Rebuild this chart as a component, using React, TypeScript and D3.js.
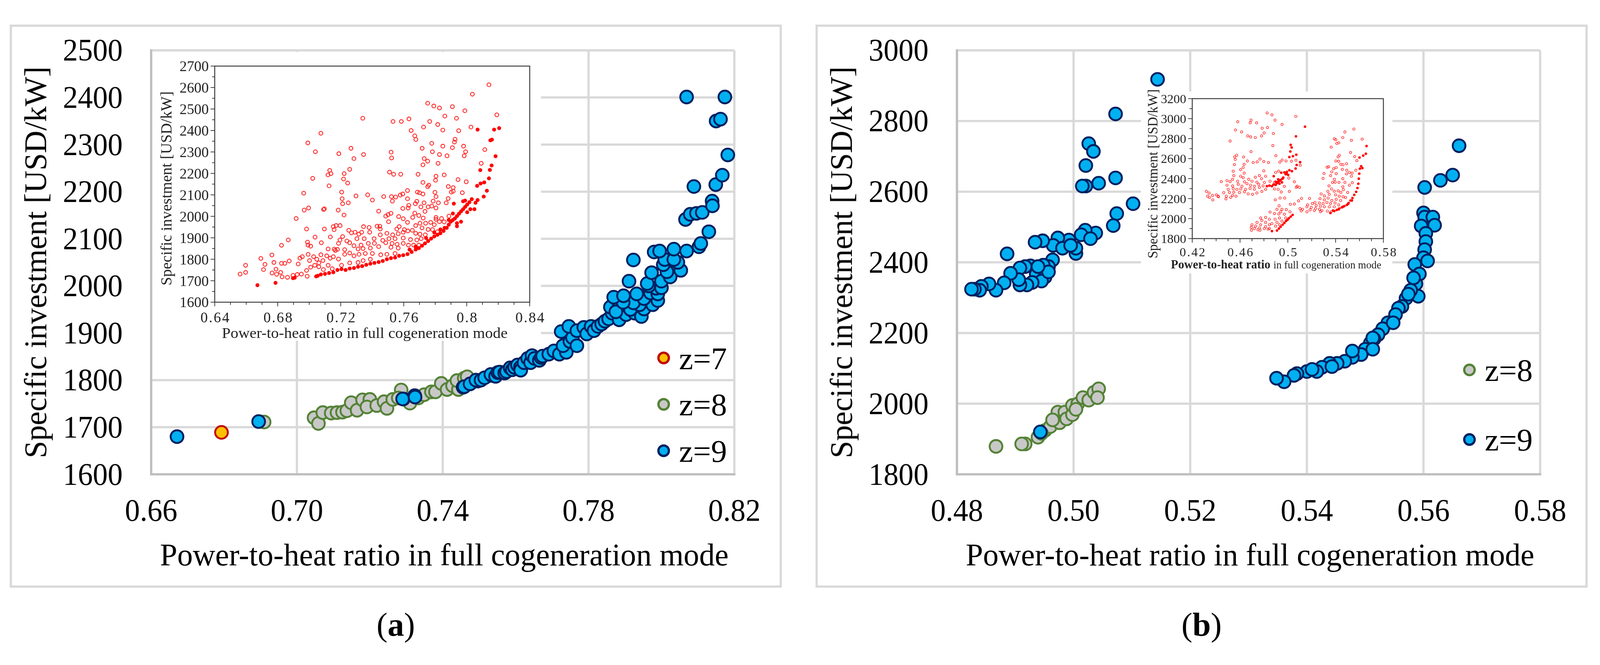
import { useEffect, useRef } from 'react'
import * as d3 from 'd3'

type Pt = [number, number]

// ---- panel (a) main series
const aZ7: Pt[] = [[0.6793, 1689]]

const aZ8: Pt[] = [
  [0.691, 1711], [0.7047, 1720], [0.7059, 1708], [0.7071, 1731], [0.7094, 1730], [0.711, 1731],
  [0.7125, 1732], [0.7137, 1735], [0.7149, 1752], [0.7165, 1736], [0.718, 1758], [0.72, 1759],
  [0.7192, 1743], [0.7219, 1746], [0.7239, 1754], [0.7247, 1740], [0.7263, 1759], [0.7286, 1779],
  [0.7278, 1762], [0.731, 1751], [0.7333, 1762], [0.7349, 1769], [0.7369, 1775], [0.738, 1775],
  [0.7396, 1793], [0.7412, 1780], [0.7427, 1788], [0.7443, 1780], [0.7439, 1799], [0.7459, 1804],
  [0.7467, 1807]
]

const aZ9: Pt[] = [
  [0.6671, 1680], [0.6895, 1712], [0.7292, 1760], [0.7323, 1767], [0.729, 1760], [0.7324, 1764],
  [0.7456, 1785], [0.7459, 1786], [0.7475, 1792], [0.7496, 1798], [0.7491, 1800], [0.7505, 1800],
  [0.7515, 1805], [0.7534, 1810], [0.7532, 1812], [0.7545, 1808], [0.7551, 1816], [0.7556, 1817],
  [0.757, 1815], [0.7575, 1818], [0.7585, 1826], [0.7591, 1822], [0.7597, 1827], [0.7605, 1832],
  [0.7613, 1827], [0.7614, 1821], [0.7623, 1837], [0.7633, 1846], [0.7641, 1837], [0.7645, 1852],
  [0.7652, 1846], [0.7665, 1842], [0.767, 1848], [0.7674, 1851], [0.7691, 1855], [0.7705, 1862],
  [0.772, 1855], [0.7739, 1859], [0.773, 1873], [0.7749, 1882], [0.7756, 1890], [0.7768, 1873],
  [0.7725, 1903], [0.7746, 1914], [0.7768, 1905], [0.7787, 1912], [0.7795, 1898], [0.7807, 1914],
  [0.7815, 1905], [0.7826, 1914], [0.7836, 1919], [0.7845, 1925], [0.7855, 1930], [0.7865, 1942],
  [0.7884, 1928], [0.7903, 1939], [0.7927, 1942], [0.7945, 1935], [0.7952, 1951], [0.786, 1955],
  [0.7884, 1957], [0.7875, 1945], [0.7915, 1950], [0.794, 1960], [0.7923, 1964], [0.7895, 1965],
  [0.7976, 1960], [0.799, 1969], [0.7952, 1973], [0.7869, 1976], [0.7896, 1979], [0.7932, 1983],
  [0.797, 1985], [0.799, 1983], [0.7985, 1995], [0.7965, 2000], [0.8, 1996], [0.8, 2010],
  [0.7961, 2005], [0.7911, 2010], [0.8024, 2019], [0.7973, 2028], [0.8015, 2030], [0.8053, 2033],
  [0.8005, 2045], [0.8045, 2050], [0.7923, 2055], [0.8009, 2056], [0.8034, 2056], [0.798, 2072],
  [0.7995, 2074], [0.8034, 2078], [0.8069, 2074], [0.8103, 2083], [0.8108, 2090], [0.813, 2115],
  [0.8066, 2141], [0.8079, 2152], [0.8096, 2154], [0.8112, 2156], [0.8139, 2180], [0.814, 2170],
  [0.8089, 2211], [0.8149, 2215], [0.8167, 2235], [0.8182, 2278], [0.815, 2350], [0.8162, 2354],
  [0.8069, 2401], [0.8174, 2401]
]

// ---- panel (a) inset
const aInsetOpen: Pt[] = [
  [0.8141, 2613], [0.8036, 2569], [0.7752, 2527], [0.7791, 2514], [0.7827, 2505], [0.7909, 2511],
  [0.7988, 2492], [0.8191, 2473], [0.734, 2457], [0.7861, 2467], [0.7935, 2457], [0.7633, 2454],
  [0.7532, 2442], [0.7585, 2442], [0.7765, 2442], [0.7816, 2428], [0.7726, 2416], [0.8027, 2416],
  [0.7848, 2402], [0.7949, 2399], [0.7647, 2400], [0.7074, 2387], [0.767, 2375], [0.7677, 2358],
  [0.7926, 2359], [0.7922, 2346], [0.7778, 2340], [0.6991, 2342], [0.7848, 2327], [0.798, 2327],
  [0.7909, 2320], [0.7717, 2317], [0.7265, 2317], [0.7039, 2301], [0.7782, 2301], [0.752, 2299],
  [0.7993, 2301], [0.7188, 2292], [0.7345, 2288], [0.7827, 2288], [0.7875, 2282], [0.7984, 2282],
  [0.8115, 2311], [0.7523, 2272], [0.7284, 2269], [0.773, 2269], [0.7752, 2257], [0.7818, 2247],
  [0.8092, 2247], [0.7722, 2240], [0.713, 2214], [0.7257, 2219], [0.7138, 2199], [0.7119, 2193],
  [0.7222, 2199], [0.751, 2206], [0.7536, 2196], [0.7581, 2196], [0.7691, 2196], [0.7857, 2193],
  [0.7805, 2187], [0.7022, 2177], [0.7218, 2174], [0.7802, 2168], [0.7945, 2171], [0.7997, 2161],
  [0.7244, 2155], [0.7722, 2158], [0.7759, 2145], [0.7752, 2138], [0.7126, 2142], [0.7883, 2139],
  [0.7914, 2134], [0.7914, 2117], [0.7902, 2113], [0.7972, 2110], [0.7206, 2113], [0.7687, 2113],
  [0.77, 2110], [0.7722, 2104], [0.7624, 2120], [0.7798, 2112], [0.6965, 2108], [0.7371, 2100],
  [0.7297, 2095], [0.7473, 2092], [0.7522, 2092], [0.7549, 2090], [0.7578, 2099], [0.7594, 2104],
  [0.7805, 2092], [0.7209, 2082], [0.7624, 2082], [0.7401, 2076], [0.7248, 2063], [0.7212, 2059],
  [0.7528, 2071], [0.7683, 2070], [0.7729, 2063], [0.7787, 2071], [0.7882, 2083], [0.787, 2063],
  [0.7674, 2059], [0.782, 2063], [0.6996, 2039], [0.6968, 2029], [0.7091, 2032], [0.7096, 2035],
  [0.7184, 2029], [0.7632, 2051], [0.7709, 2044], [0.7755, 2044], [0.7778, 2048], [0.7805, 2039],
  [0.7628, 2039], [0.7594, 2037], [0.7441, 2024], [0.7519, 2014], [0.7501, 2008], [0.7486, 2001],
  [0.7221, 2006], [0.767, 2015], [0.7735, 2023], [0.7696, 2004], [0.7724, 1992], [0.7568, 1999],
  [0.7597, 1989], [0.6917, 1990], [0.7624, 1972], [0.7504, 1975], [0.7657, 1995], [0.7805, 1995],
  [0.784, 1990], [0.7805, 1986], [0.7857, 1974], [0.7887, 2001], [0.7703, 1968], [0.7739, 1968],
  [0.7771, 1972], [0.7676, 1957], [0.7794, 1961], [0.7827, 1975], [0.7153, 1952], [0.7171, 1957],
  [0.7196, 1957], [0.7096, 1941], [0.6983, 1941], [0.7158, 1938], [0.7345, 1952], [0.738, 1948],
  [0.7431, 1954], [0.7448, 1954], [0.7451, 1941], [0.7571, 1952], [0.7556, 1941], [0.7604, 1938],
  [0.7655, 1935], [0.7716, 1946], [0.7755, 1939], [0.7783, 1938], [0.7814, 1928], [0.7251, 1935],
  [0.7268, 1923], [0.7291, 1926], [0.7333, 1926], [0.7384, 1926], [0.7315, 1917], [0.7451, 1914],
  [0.7493, 1921], [0.753, 1914], [0.7565, 1919], [0.7597, 1926], [0.7626, 1932], [0.7676, 1921],
  [0.7703, 1917], [0.7737, 1914], [0.7037, 1903], [0.7134, 1904], [0.6867, 1890], [0.7212, 1906],
  [0.7303, 1896], [0.7349, 1896], [0.7412, 1896], [0.7195, 1890], [0.7239, 1885], [0.7467, 1888],
  [0.7506, 1896], [0.7545, 1896], [0.7597, 1899], [0.7643, 1892], [0.7683, 1890], [0.7711, 1896],
  [0.6989, 1880], [0.7077, 1877], [0.6824, 1865], [0.6992, 1866], [0.7009, 1861], [0.7186, 1874],
  [0.7257, 1877], [0.7329, 1866], [0.7375, 1874], [0.7414, 1874], [0.7486, 1877], [0.7526, 1874],
  [0.7558, 1870], [0.7597, 1874], [0.763, 1866], [0.7663, 1866], [0.7696, 1866], [0.7179, 1846],
  [0.712, 1848], [0.7159, 1847], [0.7225, 1845], [0.7284, 1863], [0.731, 1848], [0.7342, 1850],
  [0.7388, 1852], [0.7441, 1859], [0.7519, 1856], [0.7565, 1852], [0.6763, 1820], [0.6693, 1804],
  [0.6719, 1776], [0.6776, 1785], [0.6824, 1781], [0.6845, 1781], [0.6873, 1792], [0.693, 1778],
  [0.6941, 1805], [0.6956, 1812], [0.6993, 1823], [0.7002, 1794], [0.7028, 1812], [0.7048, 1800],
  [0.7074, 1821], [0.7111, 1816], [0.7153, 1812], [0.7186, 1801], [0.7225, 1823], [0.7257, 1829],
  [0.7284, 1816], [0.7316, 1823], [0.7356, 1827], [0.7401, 1827], [0.7454, 1821], [0.7493, 1823],
  [0.7545, 1827], [0.7166, 1841], [0.6596, 1772], [0.6596, 1739], [0.6561, 1731], [0.671, 1752],
  [0.6764, 1736], [0.6789, 1754], [0.6819, 1739], [0.6793, 1730], [0.6828, 1718], [0.6862, 1716],
  [0.6897, 1725], [0.6924, 1729], [0.695, 1731], [0.6987, 1721], [0.6983, 1748], [0.7009, 1763],
  [0.7035, 1772], [0.7061, 1765], [0.709, 1752], [0.712, 1772], [0.7146, 1756], [0.7205, 1772],
  [0.7257, 1783], [0.731, 1785], [0.7342, 1794], [0.7388, 1800], [0.7061, 1783], [0.7087, 1794],
  [0.7133, 1805]
]

const aInsetFilled: Pt[] = [
  [0.6671, 1679], [0.6786, 1690], [0.6897, 1712], [0.6908, 1714], [0.7044, 1720], [0.7054, 1723],
  [0.7074, 1729], [0.71, 1732], [0.7126, 1736], [0.7153, 1739], [0.7179, 1750], [0.7205, 1754],
  [0.7231, 1750], [0.7257, 1757], [0.7284, 1759], [0.731, 1765], [0.7336, 1768], [0.7362, 1774],
  [0.7388, 1779], [0.7414, 1783], [0.7441, 1787], [0.7467, 1792], [0.7493, 1800], [0.7519, 1805],
  [0.7545, 1808], [0.7571, 1816], [0.7597, 1819], [0.7624, 1824], [0.765, 1834], [0.7676, 1845],
  [0.7696, 1852], [0.7716, 1863], [0.7735, 1874], [0.7755, 1885], [0.7774, 1896], [0.7794, 1906],
  [0.7814, 1914], [0.7833, 1921], [0.7853, 1932], [0.7873, 1946], [0.7886, 1961], [0.7899, 1975],
  [0.7912, 1983], [0.7925, 1990], [0.7938, 2001], [0.7951, 2012], [0.7964, 2023], [0.7977, 2033],
  [0.799, 2044], [0.8003, 2055], [0.8017, 2066], [0.8032, 2080], [0.8056, 2063], [0.8069, 2076],
  [0.8049, 2033], [0.7977, 2070], [0.799, 2073], [0.7918, 2059], [0.7912, 2013], [0.8108, 2092],
  [0.8128, 2119], [0.8066, 2142], [0.8088, 2153], [0.8111, 2158], [0.8141, 2177], [0.8147, 2216],
  [0.8086, 2215], [0.8158, 2237], [0.8183, 2280], [0.815, 2354], [0.816, 2357], [0.8069, 2404],
  [0.8174, 2404], [0.8206, 2411], [0.7886, 1983], [0.7833, 1939], [0.7938, 1954], [0.7964, 1975],
  [0.8003, 2019], [0.8023, 2033], [0.7938, 1968], [0.7859, 1946], [0.7794, 1925], [0.7742, 1899],
  [0.7676, 1859], [0.7637, 1845]
]

// ---- panel (b) main series
const bZ8: Pt[] = [
  [0.4867, 1879], [0.4917, 1886], [0.4911, 1886], [0.4939, 1905], [0.4951, 1924], [0.496, 1935],
  [0.4973, 1976], [0.4985, 1976], [0.4976, 1946], [0.4988, 1957], [0.4998, 1969], [0.4998, 1995],
  [0.5007, 1999], [0.5016, 2017], [0.5026, 2010], [0.5035, 2032], [0.5043, 2042], [0.5041, 2017],
  [0.5004, 1984], [0.4964, 1954], [0.4945, 1916]
]

const bZ9: Pt[] = [
  [0.5144, 2918], [0.5072, 2820], [0.5026, 2736], [0.5034, 2714], [0.5021, 2674], [0.5072, 2639],
  [0.5043, 2624], [0.5021, 2616], [0.5015, 2616], [0.5102, 2566], [0.5074, 2538], [0.5068, 2504],
  [0.5038, 2483], [0.502, 2491], [0.5013, 2478], [0.5004, 2425], [0.5004, 2440], [0.4992, 2463],
  [0.4973, 2469], [0.4965, 2448], [0.4981, 2440], [0.4947, 2461], [0.4934, 2457], [0.5029, 2467],
  [0.4886, 2424], [0.4964, 2407], [0.4957, 2388], [0.4948, 2392], [0.4926, 2390], [0.4917, 2388],
  [0.4908, 2384], [0.4936, 2366], [0.4951, 2358], [0.4945, 2347], [0.4929, 2343], [0.492, 2336],
  [0.4908, 2336], [0.4906, 2351], [0.4892, 2369], [0.4881, 2342], [0.4867, 2321], [0.4855, 2339],
  [0.4842, 2332], [0.4839, 2321], [0.483, 2324], [0.4825, 2324], [0.4957, 2373], [0.4939, 2388],
  [0.4995, 2448], [0.4943, 1920],
  [0.5661, 2730], [0.565, 2647], [0.5629, 2632], [0.5602, 2612], [0.56, 2540], [0.5602, 2528],
  [0.5616, 2528], [0.5619, 2505], [0.5596, 2503], [0.5604, 2482], [0.5604, 2459], [0.5602, 2436],
  [0.56, 2413], [0.5607, 2404], [0.5585, 2394], [0.5593, 2367], [0.5587, 2339], [0.5583, 2356],
  [0.5591, 2304], [0.5578, 2321], [0.557, 2298], [0.5563, 2275], [0.5557, 2270], [0.5552, 2252],
  [0.5539, 2229], [0.553, 2212], [0.5522, 2195], [0.5515, 2183], [0.5509, 2172], [0.55, 2154],
  [0.5493, 2139], [0.5478, 2131], [0.5478, 2149], [0.5465, 2120], [0.5452, 2114], [0.5439, 2114],
  [0.5426, 2103], [0.5417, 2091], [0.54, 2091], [0.5383, 2085], [0.5378, 2080], [0.5361, 2062],
  [0.5348, 2072], [0.5513, 2186], [0.5548, 2229], [0.5574, 2310], [0.5513, 2154], [0.5443, 2105],
  [0.5409, 2097]
]

// ---- panel (b) inset
const bInsetOpen: Pt[] = [
  [0.4827, 3057], [0.4867, 3038], [0.5067, 3023], [0.4893, 2985], [0.4581, 2969], [0.4692, 2985],
  [0.4685, 2958], [0.4739, 2958], [0.4952, 2942], [0.4785, 2904], [0.483, 2911], [0.4562, 2886],
  [0.4613, 2867], [0.4802, 2857], [0.4879, 2852], [0.4664, 2827], [0.4689, 2817], [0.4728, 2811],
  [0.478, 2827], [0.4517, 2776], [0.4875, 2730], [0.4692, 2670], [0.49, 2629], [0.4572, 2634],
  [0.4555, 2617], [0.463, 2616], [0.456, 2592], [0.4661, 2576], [0.471, 2561], [0.4767, 2596],
  [0.4743, 2567], [0.4799, 2571], [0.4838, 2561], [0.4933, 2565], [0.4952, 2586], [0.4985, 2576],
  [0.5031, 2574], [0.5068, 2584], [0.5104, 2534], [0.4553, 2540], [0.4634, 2543], [0.4605, 2489],
  [0.4626, 2511], [0.4799, 2478], [0.4543, 2474], [0.4635, 2455], [0.4548, 2430], [0.4605, 2424],
  [0.4626, 2409], [0.4762, 2430], [0.4814, 2424], [0.4728, 2414], [0.4673, 2393], [0.478, 2399],
  [0.4538, 2393], [0.4491, 2380], [0.4443, 2370], [0.4517, 2370], [0.458, 2374], [0.4637, 2368],
  [0.47, 2374], [0.4741, 2364], [0.4804, 2362], [0.4851, 2374], [0.4491, 2334], [0.4538, 2327],
  [0.4585, 2343], [0.4616, 2324], [0.4658, 2349], [0.4689, 2334], [0.472, 2324], [0.4757, 2343],
  [0.4793, 2327], [0.4501, 2293], [0.4543, 2299], [0.4574, 2293], [0.4606, 2297], [0.4647, 2293],
  [0.4684, 2302], [0.472, 2293], [0.4762, 2312], [0.4814, 2293], [0.4464, 2259], [0.4511, 2262],
  [0.4548, 2264], [0.4595, 2262], [0.4637, 2268], [0.4668, 2247], [0.4705, 2243], [0.4741, 2256],
  [0.4783, 2272], [0.4318, 2272], [0.4341, 2256], [0.4329, 2224], [0.4344, 2212], [0.437, 2231],
  [0.4372, 2187], [0.4402, 2237], [0.4417, 2224], [0.4419, 2218], [0.4485, 2224], [0.4482, 2197],
  [0.4522, 2212], [0.4566, 2224], [0.4538, 2231], [0.4888, 2297], [0.4919, 2293], [0.4945, 2266],
  [0.4971, 2322], [0.5013, 2272], [0.5008, 2405], [0.5055, 2368], [0.5071, 2312], [0.5097, 2312],
  [0.5078, 2324], [0.4895, 2187], [0.4935, 2206], [0.4974, 2206], [0.5021, 2143], [0.5055, 2146],
  [0.509, 2177], [0.5115, 2202], [0.5182, 2202], [0.4923, 2474], [0.4898, 2462], [0.4888, 2362],
  [0.4927, 2127], [0.4909, 2093], [0.4951, 2093], [0.4987, 2090], [0.4941, 2068], [0.4851, 2065],
  [0.4888, 2050], [0.4925, 2046], [0.4971, 2044], [0.5018, 2068], [0.4773, 2006], [0.4814, 2012],
  [0.4846, 1994], [0.4893, 1994], [0.493, 2006], [0.4982, 2006], [0.4742, 1962], [0.4783, 1981],
  [0.4814, 1962], [0.4867, 1950], [0.4909, 1962], [0.4951, 1975], [0.47, 1938], [0.4731, 1925],
  [0.4773, 1938], [0.4814, 1919], [0.4846, 1938], [0.4898, 1925], [0.493, 1938], [0.4694, 1913],
  [0.472, 1900], [0.4762, 1906], [0.4804, 1900], [0.4835, 1894], [0.4696, 1884], [0.475, 1888],
  [0.4767, 1884], [0.4846, 1901],
  [0.5553, 2896], [0.5478, 2867], [0.546, 2811], [0.5622, 2795], [0.5389, 2798], [0.5402, 2789],
  [0.5532, 2783], [0.541, 2752], [0.5426, 2758], [0.5363, 2715], [0.5525, 2661], [0.5431, 2634],
  [0.5421, 2617], [0.5559, 2620], [0.5578, 2580], [0.5402, 2576], [0.5426, 2574], [0.5492, 2549],
  [0.5462, 2539], [0.5444, 2543], [0.5329, 2514], [0.5342, 2518], [0.5405, 2511], [0.5384, 2499],
  [0.5493, 2484], [0.5456, 2493], [0.5569, 2484], [0.5368, 2468], [0.5515, 2462], [0.5538, 2455],
  [0.5303, 2451], [0.5358, 2430], [0.5405, 2449], [0.5491, 2447], [0.5532, 2424], [0.5295, 2402],
  [0.5389, 2393], [0.546, 2399], [0.5397, 2364], [0.5374, 2362], [0.5428, 2362], [0.5478, 2362],
  [0.554, 2359], [0.5515, 2334], [0.546, 2318], [0.5345, 2327], [0.5366, 2297], [0.5465, 2289],
  [0.5501, 2262], [0.5335, 2272], [0.5389, 2274], [0.5421, 2277], [0.5444, 2262], [0.5279, 2247],
  [0.5306, 2227], [0.5347, 2243], [0.54, 2237], [0.5431, 2224], [0.5462, 2218], [0.5269, 2200],
  [0.5306, 2187], [0.5337, 2206], [0.5369, 2181], [0.5405, 2193], [0.5442, 2181], [0.5483, 2212],
  [0.5227, 2162], [0.5264, 2156], [0.5295, 2150], [0.5327, 2162], [0.5358, 2150], [0.5395, 2156],
  [0.5426, 2137], [0.5206, 2150], [0.5165, 2137], [0.5237, 2131], [0.5274, 2125], [0.5306, 2118],
  [0.5347, 2118], [0.5389, 2118], [0.516, 2118], [0.5196, 2112], [0.5232, 2100], [0.5264, 2093],
  [0.5285, 2081], [0.5102, 2100], [0.5123, 2093], [0.5112, 2077], [0.516, 2068], [0.5186, 2087],
  [0.5222, 2081], [0.5274, 2068], [0.5331, 2075], [0.5363, 2068]
]

const bInsetFilled: Pt[] = [
  [0.5144, 2919], [0.5068, 2823], [0.5024, 2738], [0.5032, 2711], [0.5021, 2671], [0.5071, 2639],
  [0.5013, 2615], [0.5043, 2624], [0.5103, 2565], [0.5074, 2536], [0.5065, 2501], [0.5013, 2484],
  [0.5034, 2474], [0.4992, 2468], [0.4971, 2462], [0.4945, 2459], [0.4982, 2443], [0.5003, 2437],
  [0.4956, 2399], [0.494, 2387], [0.4925, 2374], [0.4909, 2355], [0.493, 2349], [0.4951, 2362],
  [0.4898, 2337], [0.4882, 2424], [0.4867, 2324], [0.4846, 2330], [0.4825, 2324], [0.4898, 2368],
  [0.4919, 2393], [0.4935, 2380], [0.4962, 2410], [0.499, 2450], [0.4915, 2365], [0.488, 2340],
  [0.4867, 1875], [0.4909, 1881], [0.4925, 1900], [0.494, 1919], [0.4956, 1938], [0.4971, 1956],
  [0.4984, 1975], [0.4997, 1987], [0.5008, 2003], [0.5024, 2019], [0.504, 2037],
  [0.5356, 2056], [0.5389, 2075], [0.541, 2087], [0.5431, 2100], [0.5452, 2112], [0.5473, 2125],
  [0.5494, 2137], [0.5509, 2156], [0.5525, 2181], [0.5541, 2206], [0.5556, 2237], [0.5572, 2268],
  [0.5583, 2306], [0.559, 2349], [0.5594, 2399], [0.5598, 2449], [0.5603, 2499], [0.5614, 2524],
  [0.5624, 2505], [0.56, 2611], [0.5631, 2630], [0.5653, 2649], [0.5659, 2726], [0.5378, 2081],
  [0.5426, 2093], [0.5462, 2118], [0.5504, 2146], [0.5536, 2181]
]

// ---- ticks and labels
const aXTicks = [0.66, 0.7, 0.74, 0.78, 0.82]
const aYTicks = [1600, 1700, 1800, 1900, 2000, 2100, 2200, 2300, 2400, 2500]
const bXTicks = [0.48, 0.5, 0.52, 0.54, 0.56, 0.58]
const bYTicks = [1800, 2000, 2200, 2400, 2600, 2800, 3000]
const aInsetXTicks = [0.64, 0.68, 0.72, 0.76, 0.8, 0.84]
const aInsetYTicks = [1600, 1700, 1800, 1900, 2000, 2100, 2200, 2300, 2400, 2500, 2600, 2700]
const bInsetXTicks = [0.42, 0.46, 0.5, 0.54, 0.58]
const bInsetYTicks = [1800, 2000, 2200, 2400, 2600, 2800, 3000, 3200]

const xTitle = 'Power-to-heat ratio in full cogeneration mode'
const yTitle = 'Specific investment [USD/kW]'
const seriesNames = ['z=7', 'z=8', 'z=9']

const W = 4277
const H = 1702
const FONT = "'Liberation Serif', 'Times New Roman', serif"

const seriesStyle: Record<string, { fill: string; stroke: string }> = {
  'z=7': { fill: '#ffc000', stroke: '#c00000' },
  'z=8': { fill: '#c8c8c8', stroke: '#548235' },
  'z=9': { fill: '#00b0f0', stroke: '#002060' }
}

type Sel = d3.Selection<SVGGElement, unknown, null, undefined>

interface InsetCfg {
  box: { x: number; y: number; w: number; h: number }
  axes: { l: number; r: number; t: number; b: number }
  xDomain: [number, number]
  yDomain: [number, number]
  xTicks: number[]
  yTicks: number[]
  xMinor: number[]
  yMinor: number[]
  open: Pt[]
  filled: Pt[]
  r: number
  sw: number
  fr: number
  tickFont: number
  yLabelRight: number
  xLabelY: number
  xTitle: { x: number; y: number; size: number; len: number; boldPart?: string; boldSize?: number }
  yTitle: { x: number; y: number; size: number; len: number }
}

interface PanelCfg {
  dx: number
  xDomain: [number, number]
  yDomain: [number, number]
  xTicks: number[]
  yTicks: number[]
  series: { name: string; data: Pt[] }[]
  legend: { name: string; y: number }[]
  caption: string
  inset: InsetCfg
}

// layout shared by both panels (panel b is shifted by dx)
const frame = { x: 29, y: 31, w: 2058, h: 1499 }
const plot = { l: 404, r: 1963, t: 97, b: 1230 }

function drawInset(g: Sel, c: InsetCfg) {
  g.append('rect')
    .attr('x', c.box.x).attr('y', c.box.y)
    .attr('width', c.box.w).attr('height', c.box.h)
    .attr('fill', '#fff')

  const a = c.axes
  const x = d3.scaleLinear().domain(c.xDomain).range([a.l, a.r])
  const y = d3.scaleLinear().domain(c.yDomain).range([a.b, a.t])
  const ink = '#3a3a3a'

  // minor + major ticks, pointing outwards
  g.append('g').selectAll('line').data(c.yMinor).join('line')
    .attr('x1', a.l).attr('x2', d => a.l - (c.yTicks.includes(d) ? 11 : 7))
    .attr('y1', d => y(d)).attr('y2', d => y(d))
    .attr('stroke', ink).attr('stroke-width', 2)
  g.append('g').selectAll('line').data(c.xMinor).join('line')
    .attr('y1', a.b).attr('y2', d => a.b + (c.xTicks.some(t => Math.abs(t - d) < 1e-6) ? 11 : 7))
    .attr('x1', d => x(d)).attr('x2', d => x(d))
    .attr('stroke', ink).attr('stroke-width', 2)

  g.append('rect')
    .attr('x', a.l).attr('y', a.t)
    .attr('width', a.r - a.l).attr('height', a.b - a.t)
    .attr('fill', 'none').attr('stroke', ink).attr('stroke-width', 2.5)

  // tick labels
  g.append('g').selectAll('text').data(c.yTicks).join('text')
    .attr('x', c.yLabelRight).attr('y', d => y(d)).attr('dy', '0.35em')
    .attr('text-anchor', 'end')
    .style('font-family', FONT).style('font-size', `${c.tickFont}px`).attr('fill', '#222')
    .text(d => String(d))
  g.append('g').selectAll('text').data(c.xTicks).join('text')
    .attr('x', d => x(d) + 2).attr('y', c.xLabelY).attr('dy', '0.35em')
    .attr('text-anchor', 'middle')
    .style('font-family', FONT).style('font-size', `${c.tickFont}px`)
    .style('letter-spacing', '3px').attr('fill', '#222')
    .text(d => String(d))

  // axis titles
  const xt = g.append('text')
    .attr('y', c.xTitle.y).attr('dy', '0.35em')
    .style('font-family', FONT).attr('fill', '#222')
  if (c.xTitle.boldPart) {
    xt.attr('x', c.xTitle.x).attr('text-anchor', 'start')
    xt.append('tspan').style('font-weight', 'bold').style('font-size', `${c.xTitle.boldSize}px`)
      .text(c.xTitle.boldPart)
    xt.append('tspan').style('font-size', `${c.xTitle.size}px`)
      .text(xTitle.slice(c.xTitle.boldPart.length))
  } else {
    xt.attr('x', c.xTitle.x).attr('text-anchor', 'middle')
      .style('font-size', `${c.xTitle.size}px`)
      .attr('textLength', c.xTitle.len).attr('lengthAdjust', 'spacingAndGlyphs')
      .text(xTitle)
  }
  g.append('text')
    .attr('transform', `translate(${c.yTitle.x},${c.yTitle.y}) rotate(-90)`)
    .attr('dy', '0.35em').attr('text-anchor', 'middle')
    .style('font-family', FONT).style('font-size', `${c.yTitle.size}px`).attr('fill', '#222')
    .attr('textLength', c.yTitle.len).attr('lengthAdjust', 'spacingAndGlyphs')
    .text(yTitle)

  // points
  g.append('g').selectAll('circle').data(c.open).join('circle')
    .attr('cx', d => x(d[0])).attr('cy', d => y(d[1])).attr('r', c.r)
    .attr('fill', 'none').attr('stroke', '#ff2a2a').attr('stroke-width', c.sw)
  g.append('g').selectAll('circle').data(c.filled).join('circle')
    .attr('cx', d => x(d[0])).attr('cy', d => y(d[1])).attr('r', c.fr)
    .attr('fill', '#ff0000')
}

function drawPanel(svg: d3.Selection<SVGSVGElement, unknown, null, undefined>, c: PanelCfg) {
  const g = svg.append('g').attr('transform', `translate(${c.dx},0)`) as unknown as Sel
  const x = d3.scaleLinear().domain(c.xDomain).range([plot.l, plot.r])
  const y = d3.scaleLinear().domain(c.yDomain).range([plot.b, plot.t])

  g.append('rect')
    .attr('x', frame.x).attr('y', frame.y).attr('width', frame.w).attr('height', frame.h)
    .attr('fill', '#fff').attr('stroke', '#d9d9d9').attr('stroke-width', 6)

  // gridlines
  g.append('g').selectAll('line').data(c.yTicks).join('line')
    .attr('x1', plot.l).attr('x2', plot.r)
    .attr('y1', d => y(d)).attr('y2', d => y(d))
    .attr('stroke', '#d9d9d9').attr('stroke-width', 6)
  g.append('g').selectAll('line').data(c.xTicks).join('line')
    .attr('y1', plot.t).attr('y2', plot.b)
    .attr('x1', d => x(d)).attr('x2', d => x(d))
    .attr('stroke', '#d9d9d9').attr('stroke-width', 6)

  // inset sits on top of the gridlines (its coordinates are absolute)
  const ig = svg.append('g') as unknown as Sel
  drawInset(ig, c.inset)

  // axis lines
  g.append('line').attr('x1', plot.l).attr('x2', plot.l).attr('y1', plot.t - 3).attr('y2', plot.b + 3)
    .attr('stroke', '#bfbfbf').attr('stroke-width', 6)
  g.append('line').attr('x1', plot.l - 3).attr('x2', plot.r + 3).attr('y1', plot.b).attr('y2', plot.b)
    .attr('stroke', '#bfbfbf').attr('stroke-width', 6)

  // tick labels
  g.append('g').selectAll('text').data(c.yTicks).join('text')
    .attr('x', 328).attr('y', d => y(d) - 2).attr('dy', '0.35em')
    .attr('text-anchor', 'end')
    .style('font-family', FONT).style('font-size', '85px').attr('fill', '#000')
    .attr('textLength', 160).attr('lengthAdjust', 'spacingAndGlyphs')
    .text(d => String(d))
  g.append('g').selectAll('text').data(c.xTicks).join('text')
    .attr('x', d => x(d)).attr('y', 1354)
    .attr('text-anchor', 'middle')
    .style('font-family', FONT).style('font-size', '85px').attr('fill', '#000')
    .attr('textLength', 140).attr('lengthAdjust', 'spacingAndGlyphs')
    .text(d => d3.format('.2f')(d))

  // titles
  g.append('text')
    .attr('x', (plot.l + plot.r) / 2 + 4).attr('y', 1473)
    .attr('text-anchor', 'middle')
    .style('font-family', FONT).style('font-size', '85px')
    .attr('textLength', 1520).attr('lengthAdjust', 'spacingAndGlyphs')
    .text(xTitle)
  g.append('text')
    .attr('transform', `translate(123,${(plot.t + plot.b) / 2}) rotate(-90)`)
    .attr('text-anchor', 'middle')
    .style('font-family', FONT).style('font-size', '85px')
    .attr('textLength', 1047).attr('lengthAdjust', 'spacingAndGlyphs')
    .text(yTitle)

  // series
  c.series.forEach(s => {
    const st = seriesStyle[s.name]
    g.append('g').selectAll('circle').data(s.data).join('circle')
      .attr('cx', d => x(d[0])).attr('cy', d => y(d[1])).attr('r', 17)
      .attr('fill', st.fill).attr('stroke', st.stroke).attr('stroke-width', 5)
  })

  // legend
  c.legend.forEach(l => {
    const st = seriesStyle[l.name]
    g.append('circle').attr('cx', plot.r - 189).attr('cy', l.y).attr('r', 14)
      .attr('fill', st.fill).attr('stroke', st.stroke).attr('stroke-width', 6)
    g.append('text').attr('x', plot.r - 148).attr('y', l.y).attr('dy', '0.35em')
      .style('font-family', FONT).style('font-size', '85px')
      .text(l.name)
  })

  // caption
  const cap = g.append('text')
    .attr('x', frame.x + frame.w / 2).attr('y', 1631).attr('dy', '0.35em')
    .attr('text-anchor', 'middle')
    .style('font-family', FONT).style('font-size', '88px')
  cap.append('tspan').text('(')
  cap.append('tspan').style('font-weight', 'bold').text(c.caption)
  cap.append('tspan').text(')')
}

const panelA: PanelCfg = {
  dx: 0,
  xDomain: [0.66, 0.82],
  yDomain: [1600, 2500],
  xTicks: aXTicks,
  yTicks: aYTicks,
  series: [
    { name: 'z=8', data: aZ8 },
    { name: 'z=7', data: aZ7 },
    { name: 'z=9', data: aZ9 }
  ],
  legend: [
    { name: seriesNames[0], y: 919 },
    { name: seriesNames[1], y: 1043 },
    { name: seriesNames[2], y: 1167 }
  ],
  caption: 'a',
  inset: {
    box: { x: 407, y: 101, w: 1039, h: 772 },
    axes: { l: 574, r: 1416, t: 139, b: 770 },
    xDomain: [0.64, 0.84],
    yDomain: [1600, 2700],
    xTicks: aInsetXTicks,
    yTicks: aInsetYTicks,
    xMinor: d3.range(0, 21).map(i => +(0.64 + i * 0.01).toFixed(2)),
    yMinor: d3.range(1600, 2701, 50),
    open: aInsetOpen,
    filled: aInsetFilled,
    r: 5,
    sw: 2.4,
    fr: 5.2,
    tickFont: 39,
    yLabelRight: 558,
    xLabelY: 810,
    xTitle: { x: 975, y: 852, size: 40, len: 764 },
    yTitle: { x: 444, y: 466, size: 41, len: 519 }
  }
}

const panelB: PanelCfg = {
  dx: 2154,
  xDomain: [0.48, 0.58],
  yDomain: [1800, 3000],
  xTicks: bXTicks,
  yTicks: bYTicks,
  series: [
    { name: 'z=8', data: bZ8 },
    { name: 'z=9', data: bZ9 }
  ],
  legend: [
    { name: seriesNames[1], y: 951 },
    { name: seriesNames[2], y: 1137 }
  ],
  caption: 'b',
  inset: {
    box: { x: 3050, y: 207, w: 672, h: 486 },
    axes: { l: 3187, r: 3698, t: 226, b: 600 },
    xDomain: [0.42, 0.58],
    yDomain: [1800, 3200],
    xTicks: bInsetXTicks,
    yTicks: bInsetYTicks,
    xMinor: d3.range(0, 17).map(i => +(0.42 + i * 0.01).toFixed(2)),
    yMinor: d3.range(1800, 3201, 100),
    open: bInsetOpen,
    filled: bInsetFilled,
    r: 3,
    sw: 1.5,
    fr: 3.4,
    tickFont: 34,
    yLabelRight: 3171,
    xLabelY: 635,
    xTitle: { x: 3130, y: 674, size: 28, len: 587, boldPart: 'Power-to-heat ratio ', boldSize: 32 },
    yTitle: { x: 3081, y: 427, size: 38, len: 452 }
  }
}

export default function App() {
  const svgRef = useRef<SVGSVGElement | null>(null)

  useEffect(() => {
    if (!svgRef.current) return
    document.body.style.margin = '0'
    document.body.style.overflow = 'hidden'
    const svg = d3.select(svgRef.current)
    svg.selectAll('*').remove()
    svg.append('rect').attr('width', W).attr('height', H).attr('fill', '#fff')
    drawPanel(svg, panelA)
    drawPanel(svg, panelB)
  }, [])

  // the svg fills the viewport whatever its css-pixel size is
  return (
    <svg
      ref={svgRef}
      viewBox={`0 0 ${W} ${H}`}
      preserveAspectRatio="xMidYMid meet"
      style={{ position: 'fixed', left: 0, top: 0, width: '100vw', height: '100vh', display: 'block' }}
    />
  )
}
